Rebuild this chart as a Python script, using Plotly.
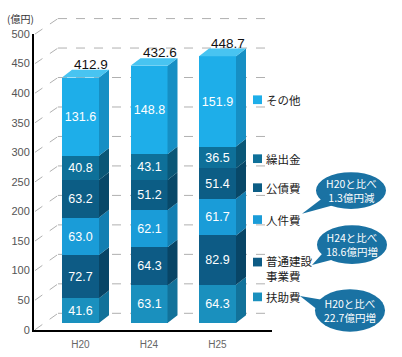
import plotly.graph_objects as go

# ---------------- data ----------------
categories = ["H20", "H24", "H25"]
series_names = ["扶助費", "普通建設事業費", "人件費", "公債費", "繰出金", "その他"]
fujo = [41.6, 63.1, 64.3]          # 扶助費
futsu = [72.7, 64.3, 82.9]         # 普通建設事業費
jinken = [63.0, 62.1, 61.7]        # 人件費
kosai = [63.2, 51.2, 51.4]         # 公債費
kuridashi = [40.8, 43.1, 36.5]     # 繰出金
sonota = [131.6, 148.8, 151.9]     # その他
totals = [412.9, 432.6, 448.7]
y_ticks = [0, 50, 100, 150, 200, 250, 300, 350, 400, 450, 500]
unit_label = "(億円)"
legend_labels = ["その他", "繰出金", "公債費", "人件費", "普通建設<br>事業費", "扶助費"]
callout_texts = ["H20と比べ<br>1.3億円減", "H24と比べ<br>18.6億円増", "H20と比べ<br>22.7億円増"]

series = [fujo, futsu, jinken, kosai, kuridashi, sonota]

# ---------------- style ----------------
W, H = 402, 357
front_colors = ["#1a90be", "#0d5b85", "#1a9cd8", "#0c5d85", "#0e7099", "#1eaee9"]
side_colors = ["#12729a", "#084566", "#137fb2", "#084868", "#0a5777", "#168fc4"]
top_color = "#48c4f1"
NUM_FONT = "Liberation Sans"
JP_FONT = "Noto Sans CJK JP"

BW = 0.54      # bar width (x units)
DX = 0.146     # 3D depth in x units
DY = 13.0      # 3D depth in y units


def px(x):
    return x / W


def py(y):
    return 1 - y / H


xs = list(range(len(categories)))
fig = go.Figure()

# front faces
for k, vals in enumerate(series):
    fig.add_trace(go.Bar(
        x=xs, y=vals, width=BW, name=series_names[k],
        marker=dict(color=front_colors[k], line=dict(width=0)),
        text=[f"{v:.1f}" for v in vals], textposition="inside", textangle=0,
        insidetextanchor="middle", constraintext="none",
        textfont=dict(color="white", size=12.5, family=NUM_FONT),
        hoverinfo="skip", showlegend=False,
    ))

# side faces (3D effect)
base = [0.0] * len(xs)
for k, vals in enumerate(series):
    px_list, py_list = [], []
    for i, v in enumerate(vals):
        xr = xs[i] + BW / 2
        y0, y1 = base[i], base[i] + v
        px_list += [xr, xr + DX, xr + DX, xr, xr, None]
        py_list += [y0, y0 + DY, y1 + DY, y1, y0, None]
        base[i] = y1
    fig.add_trace(go.Scatter(
        x=px_list, y=py_list, mode="lines", fill="toself",
        fillcolor=side_colors[k], line=dict(width=0, color=side_colors[k]),
        hoverinfo="skip", showlegend=False,
    ))

# top faces
tx, ty = [], []
for i, t in enumerate(base):
    xl, xr = xs[i] - BW / 2, xs[i] + BW / 2
    tx += [xl, xl + DX, xr + DX, xr, xl, None]
    ty += [t, t + DY, t + DY, t, t, None]
fig.add_trace(go.Scatter(
    x=tx, y=ty, mode="lines", fill="toself", fillcolor=top_color,
    line=dict(width=0, color=top_color), hoverinfo="skip", showlegend=False,
))

# invisible trace so that the front value axis (y2) gets drawn
fig.add_trace(go.Scatter(x=[xs[0]], y=[y_ticks[0]], yaxis="y2", mode="markers",
                         marker=dict(opacity=0), hoverinfo="skip", showlegend=False))

# totals above bars
for i, t in enumerate(totals):
    fig.add_annotation(
        x=xs[i] + 0.16, y=t, xref="x", yref="y", yshift=13,
        xanchor="center", yanchor="middle",
        text=f"{t:.1f}", showarrow=False,
        font=dict(size=13.5, color="#111", family=NUM_FONT),
    )

shapes = []
# back wall dashed gridlines + diagonal connectors
FRONT_Y0, FRONT_Y500 = 335, 29
BACK_Y0, BACK_Y500 = 318, 13
for v in y_ticks:
    yb = BACK_Y0 + (BACK_Y500 - BACK_Y0) * v / 500
    yf = FRONT_Y0 + (FRONT_Y500 - FRONT_Y0) * v / 500
    shapes.append(dict(type="line", xref="paper", yref="paper",
                       x0=px(58), x1=px(267), y0=py(yb), y1=py(yb),
                       line=dict(color="#b0b0b0", width=1, dash="dash"), layer="below"))
    shapes.append(dict(type="line", xref="paper", yref="paper",
                       x0=px(35), x1=px(58), y0=py(yf), y1=py(yb),
                       line=dict(color="#b0b0b0", width=1, dash="dash"), layer="below"))

# legend (squares + labels)
legend_colors = [front_colors[5], front_colors[4], front_colors[3],
                 front_colors[2], front_colors[1], front_colors[0]]
legend_sq_y = [97, 158, 188, 221, 265, 301]
legend_txt_y = [97, 158, 188, 221, 272, 301]
for lbl, c, ys, yt in zip(legend_labels, legend_colors, legend_sq_y, legend_txt_y):
    shapes.append(dict(type="rect", xref="paper", yref="paper",
                       x0=px(253), x1=px(262), y0=py(ys + 4.5), y1=py(ys - 4.5),
                       fillcolor=c, line=dict(width=0)))
    fig.add_annotation(x=px(264), y=py(yt), xref="paper", yref="paper",
                       xanchor="left", yanchor="middle", align="left",
                       text=lbl, showarrow=False,
                       font=dict(size=11.5, color="#222", family=JP_FONT))

# callout bubbles
bubble_color = "#1a72a3"
bubbles = [
    dict(c=(351, 191), r=(35, 19), tip=(302, 215), b1=(326, 196), b2=(334, 206)),
    dict(c=(352, 247), r=(35, 20), tip=(312, 268), b1=(326, 252), b2=(334, 262)),
    dict(c=(350, 315), r=(35, 22), tip=(300, 300), b1=(322, 304), b2=(322, 318)),
]
for b, txt in zip(bubbles, callout_texts):
    cx, cy = b["c"]
    rx, ry = b["r"]
    shapes.append(dict(type="circle", xref="paper", yref="paper",
                       x0=px(cx - rx), x1=px(cx + rx), y0=py(cy + ry), y1=py(cy - ry),
                       fillcolor=bubble_color, line=dict(width=0)))
    (tx_, ty_), (b1x, b1y), (b2x, b2y) = b["tip"], b["b1"], b["b2"]
    path = (f"M {px(b1x)} {py(b1y)} L {px(tx_)} {py(ty_)} "
            f"L {px(b2x)} {py(b2y)} Z")
    shapes.append(dict(type="path", xref="paper", yref="paper", path=path,
                       fillcolor=bubble_color, line=dict(width=0)))
    fig.add_annotation(x=px(cx), y=py(cy), xref="paper", yref="paper",
                       xanchor="center", yanchor="middle",
                       text=txt, showarrow=False, align="center",
                       font=dict(size=10.5, color="white", family=JP_FONT))

# unit label
fig.add_annotation(x=px(5), y=py(13), xref="paper", yref="paper",
                   xanchor="left", yanchor="middle", text=unit_label, showarrow=False,
                   font=dict(size=10, color="#333", family=JP_FONT))

# bar scale: value 0 at pixel 328, 0.615 px per unit
BAR_Y0_PX, BAR_SCALE = 328, 0.615
y_lo = (BAR_Y0_PX - H) / BAR_SCALE
y_hi = BAR_Y0_PX / BAR_SCALE

fig.update_layout(
    width=W, height=H,
    margin=dict(l=0, r=0, t=0, b=0),
    paper_bgcolor="white", plot_bgcolor="rgba(0,0,0,0)",
    barmode="stack", bargap=0,
    shapes=shapes,
    xaxis=dict(domain=[px(34), px(272)], range=[-(80.5 - 34) / 68.5, (272 - 80.5) / 68.5],
               tickvals=xs, ticktext=categories, anchor="y2",
               showline=True, linecolor="black", linewidth=2, ticks="",
               showgrid=False, zeroline=False, ticklabelstandoff=4,
               tickfont=dict(size=10, color="#666", family=NUM_FONT)),
    yaxis=dict(domain=[0, 1], range=[y_lo, y_hi], visible=False),
    yaxis2=dict(domain=[py(FRONT_Y0), py(FRONT_Y500)], range=[0, 500], anchor="x",
                tickvals=y_ticks, showline=True, linecolor="black", linewidth=2,
                ticks="", showgrid=False, zeroline=False,
                tickfont=dict(size=11, color="#555", family=NUM_FONT)),
)

fig.write_html("out.html", config={"displayModeBar": False},
               post_script="document.body.style.margin='0';")
